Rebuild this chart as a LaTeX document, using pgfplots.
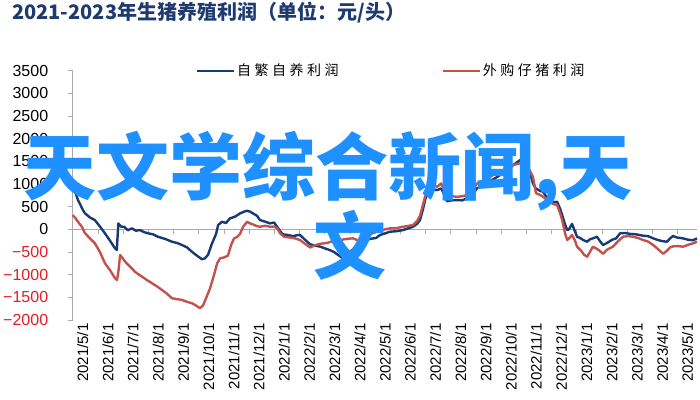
\documentclass[border=0pt]{standalone}
\usepackage{pgfplots}
\pgfplotsset{compat=1.18}
\usepackage{fontspec}
\setmainfont{Liberation Sans}
\newfontfamily\cjk{Noto Sans CJK SC}
\newfontfamily\legfont[LetterSpace=25]{Noto Sans CJK SC}
\definecolor{lineblue}{RGB}{22,58,118}
\definecolor{linered}{RGB}{196,82,76}
\definecolor{labred}{RGB}{228,28,36}
\definecolor{axisgray}{RGB}{170,170,170}
\definecolor{titleblue}{RGB}{30,58,112}
\definecolor{wmblue}{RGB}{30,144,255}
\begin{document}
\begin{tikzpicture}[x=1pt,y=1pt]
\useasboundingbox (0,0) rectangle (700,399);
\node[anchor=west, text=titleblue, font=\cjk\bfseries\fontsize{20}{20}\selectfont, inner sep=0] at (12,386.5) {2021-2023年生猪养殖利润（单位：元/头）};
\begin{axis}[
  at={(72.7pt,79pt)}, anchor=south west,
  scale only axis, width=624.3pt, height=249.3pt,
  xmin=0, xmax=24.77, ymin=-2000, ymax=3500,
  axis y line=left, axis x line=middle,
  axis line style={draw=axisgray, line width=0.8pt, -},
  xtick={0,...,24}, xticklabels={},
  ytick={-2000,-1500,...,3500},
  yticklabels={\color{labred}−2000,\color{labred}−1500,\color{labred}−1000,\color{labred}−500,0,500,1000,1500,2000,2500,3000,3500},
  tick style={draw=axisgray, line width=0.8pt},
  major tick length=5pt,
  tick align=outside,
  yticklabel style={font=\fontsize{16}{16}\selectfont, anchor=east, xshift=-16pt},
  legend columns=2,
  legend style={at={(0.51,1.0)}, anchor=center, draw=none, fill=none,
    font=\legfont\fontsize{14}{14}\selectfont, /tikz/every even column/.append style={column sep=101pt}},
  legend cell align=left,
  legend image code/.code={\draw[#1] (0pt,0pt) -- (37pt,0pt);},
  clip=false,
]
\addplot[lineblue, line width=2.4pt, line join=round] coordinates {
(0,950)(0.13,780)(0.21,645)(0.29,560)(0.41,420)(0.49,352)(0.69,260)(0.88,205)(1.08,60)(1.28,-88)(1.48,-250)(1.68,-419)(1.75,-456)
(1.81,130)(1.92,60)(2.04,57)(2.19,-20)(2.35,22)(2.51,-30)(2.67,-15)(2.83,-60)(2.99,-88)(3.19,-110)(3.38,-163)(3.66,-210)(3.94,-273)
(4.14,-300)(4.34,-346)(4.54,-400)(4.73,-494)(4.93,-580)(5.13,-661)(5.25,-639)(5.37,-560)(5.53,-308)(5.69,-100)(5.77,95)(5.92,167)
(6.08,140)(6.24,242)(6.44,280)(6.64,352)(6.80,390)(6.92,410)(7.04,390)(7.15,352)(7.31,300)(7.43,205)(7.63,170)(7.83,132)(7.99,150)
(8.11,57)(8.23,-40)(8.34,-110)(8.54,-125)(8.74,-150)(8.90,-130)(9.02,-125)(9.22,-230)(9.42,-330)(9.62,-360)(9.81,-380)(10.01,-420)
(10.21,-460)(10.37,-500)(10.53,-566)(10.73,-639)(10.85,-600)(11.00,-500)(11.20,-400)(11.40,-300)(11.64,-235)(11.80,-210)(12.04,-190)
(12.19,-125)(12.39,-90)(12.59,-52)(12.87,-40)(13.11,-15)(13.30,20)(13.50,57)(13.66,120)(13.78,205)(13.90,450)(13.98,645)(14.10,860)
(14.18,903)(14.30,880)(14.46,866)(14.62,903)(14.73,780)(14.85,620)(15.05,640)(15.25,645)(15.45,640)(15.65,682)(15.85,760)(16.04,903)
(16.36,1000)(16.68,1100)(16.96,1200)(17.24,1300)(17.48,1420)(17.63,1480)(17.75,1527)(17.87,1500)(18.03,1454)(18.15,1250)(18.26,1013)
(18.38,900)(18.54,850)(18.66,828)(18.82,700)(18.94,620)(19.06,600)(19.22,608)(19.34,450)(19.42,315)(19.54,100)(19.62,-15)(19.69,0)
(19.81,120)(19.93,-50)(20.01,-163)(20.13,-190)(20.25,-235)(20.41,-273)(20.52,-220)(20.64,-198)(20.80,-163)(20.92,-260)(21.04,-346)
(21.20,-300)(21.40,-230)(21.56,-198)(21.72,-88)(21.92,-80)(22.11,-100)(22.35,-110)(22.63,-140)(22.83,-150)(23.03,-198)(23.19,-230)
(23.39,-260)(23.58,-273)(23.70,-200)(23.82,-147)(23.98,-180)(24.22,-200)(24.42,-230)(24.62,-240)(24.77,-198)
};
\addlegendentry{自繁自养利润}
\addplot[linered, line width=2.4pt, line join=round] coordinates {
(0,315)(0.09,260)(0.21,167)(0.37,50)(0.49,-88)(0.69,-200)(0.88,-308)(1.08,-500)(1.28,-749)(1.48,-900)(1.68,-1079)(1.76,-1116)
(1.82,-900)(1.88,-566)(2.00,-650)(2.08,-713)(2.27,-820)(2.47,-934)(2.63,-1000)(2.75,-1044)(2.95,-1120)(3.15,-1190)(3.35,-1260)
(3.54,-1337)(3.74,-1420)(3.94,-1520)(4.14,-1540)(4.34,-1557)(4.54,-1600)(4.73,-1630)(4.89,-1680)(5.05,-1740)(5.17,-1680)(5.29,-1520)
(5.45,-1300)(5.61,-1000)(5.73,-750)(5.85,-639)(6.00,-620)(6.16,-580)(6.28,-350)(6.40,-200)(6.52,-170)(6.64,-100)(6.76,57)(6.92,167)
(7.04,130)(7.15,110)(7.31,70)(7.43,57)(7.63,80)(7.83,57)(7.99,60)(8.11,22)(8.23,-88)(8.38,-163)(8.62,-180)(8.82,-198)(9.02,-235)
(9.22,-320)(9.42,-400)(9.62,-350)(9.81,-320)(10.09,-300)(10.33,-260)(10.61,-235)(10.88,-210)(11.12,-198)(11.28,-235)(11.40,-273)
(11.60,-180)(11.80,-110)(12.00,-60)(12.19,-40)(12.39,0)(12.59,22)(12.87,30)(13.11,57)(13.30,75)(13.50,95)(13.66,180)(13.78,300)
(13.90,550)(13.98,718)(14.10,900)(14.18,1013)(14.30,980)(14.46,939)(14.62,1013)(14.73,880)(14.85,755)(15.05,730)(15.25,718)
(15.45,730)(15.65,755)(15.85,850)(16.04,1013)(16.36,1100)(16.68,1200)(16.96,1280)(17.24,1350)(17.48,1420)(17.63,1440)(17.75,1454)
(17.91,1420)(18.03,1380)(18.15,1280)(18.26,1160)(18.38,800)(18.54,760)(18.66,718)(18.82,650)(18.94,608)(19.06,560)(19.22,535)
(19.34,350)(19.42,205)(19.54,-100)(19.62,-235)(19.69,-200)(19.81,-125)(19.93,-250)(20.01,-383)(20.17,-470)(20.29,-560)(20.41,-603)
(20.52,-500)(20.64,-383)(20.80,-430)(20.92,-480)(21.04,-540)(21.20,-450)(21.44,-380)(21.64,-260)(21.84,-160)(22.04,-150)(22.23,-163)
(22.43,-190)(22.63,-235)(22.83,-270)(23.03,-346)(23.23,-440)(23.43,-540)(23.58,-470)(23.70,-400)(23.82,-375)(24.02,-370)(24.22,-383)
(24.42,-340)(24.62,-308)(24.77,-273)
};
\addlegendentry{外购仔猪利润}
\end{axis}
\begin{axis}[
  at={(72.7pt,79pt)}, anchor=south west,
  scale only axis, width=624.3pt, height=249.3pt,
  xmin=0, xmax=24.77, ymin=-2000, ymax=3500,
  axis x line=bottom, axis y line=none,
  axis line style={draw=none}, tick style={draw=none},
  major tick length=0pt,
  xtick={0,...,24},
  xticklabels={2021/5/1,2021/6/1,2021/7/1,2021/8/1,2021/9/1,2021/10/1,2021/11/1,2021/12/1,2022/1/1,2022/2/1,2022/3/1,2022/4/1,2022/5/1,2022/6/1,2022/7/1,2022/8/1,2022/9/1,2022/10/1,2022/11/1,2022/12/1,2023/1/1,2023/2/1,2023/3/1,2023/4/1,2023/5/1},
  xticklabel style={rotate=90, anchor=east, font=\fontsize{15}{15}\selectfont, yshift=-10pt},
]
\addplot[draw=none] coordinates {(0,0)};
\end{axis}
\node[text=wmblue, font=\cjk\bfseries\fontsize{73}{73}\selectfont, inner sep=0] at (328,228) {天文学综合新闻,天};
\node[text=wmblue, font=\cjk\bfseries\fontsize{73}{73}\selectfont, inner sep=0] at (350,154) {文};
\end{tikzpicture}
\end{document}
